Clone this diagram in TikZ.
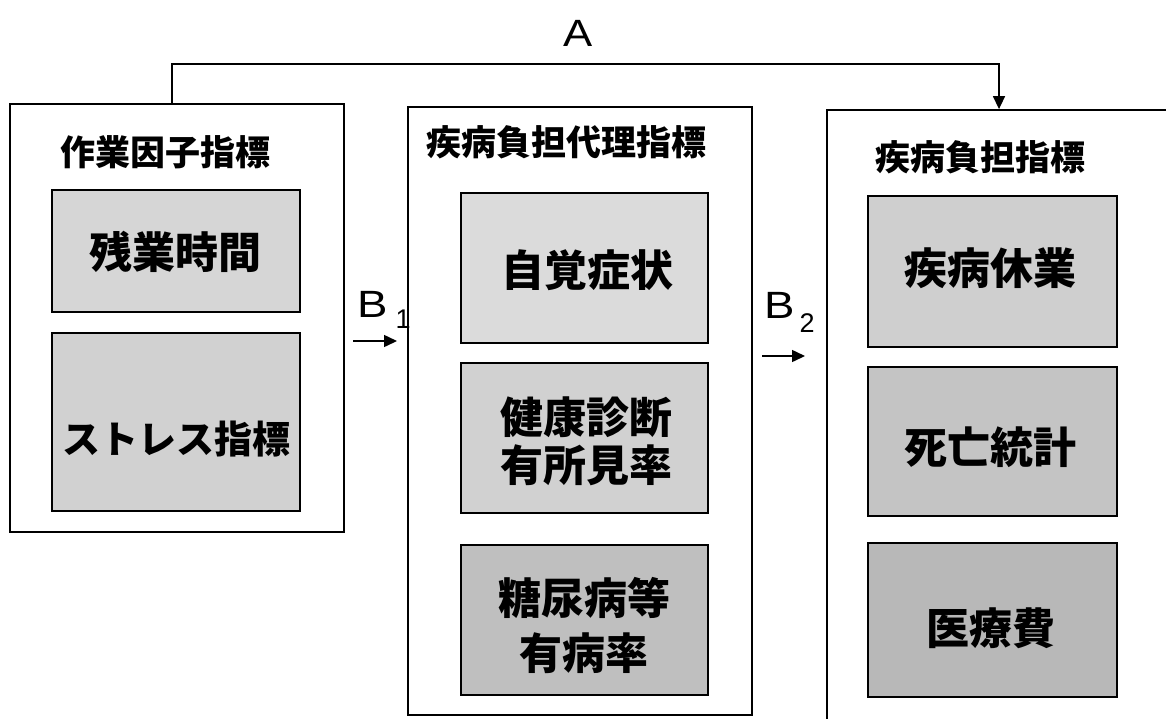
\documentclass[tikz,border=0pt]{standalone}
\usepackage{fontspec}
\setmainfont{Liberation Sans}
\newfontfamily\jp{Noto Sans CJK JP}
\usetikzlibrary{arrows.meta}
\tikzset{
  panel/.style={draw=black, line width=1.8pt, inner sep=0pt},
  tbox/.style={draw=black, line width=2.2pt, inner sep=0pt},
  ttl/.style={inner sep=0pt, font=\jp\bfseries\fontsize{35}{35}\selectfont},
  btxt/.style={inner sep=0pt, align=center, font=\jp\bfseries\fontsize{43}{48}\selectfont},
  lab/.style={inner sep=0pt, font=\fontsize{38}{38}\selectfont},
  conn/.style={draw=black, line width=1.5pt, -{Triangle[width=12pt,length=13pt]}},
}
\begin{document}
\begin{tikzpicture}[x=1pt,y=-1pt]
\clip (0,0) rectangle (1166,718);
\fill[white] (0,0) rectangle (1166,718);
% panels
\node[panel, minimum width=334pt, minimum height=428pt] (p1) at (177,318) {};
\node[panel, minimum width=344pt, minimum height=608pt] (p2) at (580,411) {};
\node[panel, minimum width=380pt, minimum height=660pt] (p3) at (1017,440) {};
% titles
\node[ttl] (t1) at (165,152) {作業因子指標};
\node[ttl] (t2) at (566,142) {疾病負担代理指標};
\node[ttl] (t3) at (980,157) {疾病負担指標};
% inner boxes
\node[tbox, fill=gray!32, minimum width=248pt, minimum height=122pt] (l1) at (176,251) {};
\node[tbox, fill=gray!36, minimum width=248pt, minimum height=178pt] (l2) at (176,422) {};
\node[tbox, fill=gray!28, minimum width=247pt, minimum height=150pt] (m1) at (584.5,268) {};
\node[tbox, fill=gray!36, minimum width=247pt, minimum height=150pt] (m2) at (584.5,438) {};
\node[tbox, fill=gray!50, minimum width=247pt, minimum height=150pt] (m3) at (584.5,620) {};
\node[tbox, fill=gray!38, minimum width=249pt, minimum height=151pt] (r1) at (992.5,271.5) {};
\node[tbox, fill=gray!46, minimum width=249pt, minimum height=149pt] (r2) at (992.5,441.5) {};
\node[tbox, fill=gray!56, minimum width=249pt, minimum height=154pt] (r3) at (992.5,620) {};
% box texts
\node[btxt] (tl1) at (175,252) {残業時間};
\node[btxt, font=\jp\bfseries\fontsize{38}{44}\selectfont] (tl2) at (176,439) {ストレス指標};
\node[btxt] (tm1) at (587,270) {自覚症状};
\node[btxt] (tm2) at (586,441) {健康診断\\有所見率};
\node[btxt, font=\jp\bfseries\fontsize{43}{55}\selectfont] (tm3) at (584,625) {糖尿病等\\有病率};
\node[btxt] (tr1) at (990,268) {疾病休業};
\node[btxt] (tr2) at (990,447) {死亡統計};
\node[btxt] (tr3) at (991,628) {医療費};
% labels
\node[lab] (A) at (578,33) {\scalebox{1.15}[1]{A}};
\node[lab, anchor=base west] (B1) at (357,317) {\scalebox{1.2}[1]{B}\hspace{8pt}\raisebox{-11pt}{\fontsize{27}{27}\selectfont 1}};
\node[lab, anchor=base west] (B2) at (764,318) {\scalebox{1.2}[1]{B}\hspace{5pt}\raisebox{-14pt}{\fontsize{27}{27}\selectfont 2}};
% connectors
\coordinate (a1) at (172,64);
\coordinate (a2) at (999,64);
\draw[conn] (p1.north -| a1) -- (a1) -- (a2) -- (p3.north -| a2);
\coordinate (b1s) at (353,341);
\coordinate (b1e) at (397,341);
\coordinate (b2s) at (762,356);
\coordinate (b2e) at (805,356);
\draw[conn] (b1s) -- (b1e);
\draw[conn] (b2s) -- (b2e);
\end{tikzpicture}
\end{document}
